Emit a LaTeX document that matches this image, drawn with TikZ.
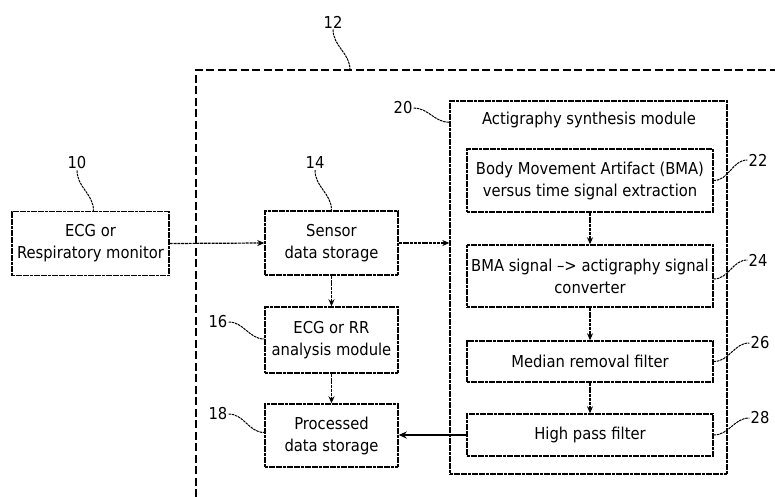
\documentclass[tikz,border=0pt]{standalone}
\usepackage{fontspec}
\setmainfont{DejaVu Sans Condensed}
\usepackage{tikz}
\usetikzlibrary{arrows.meta}
\usetikzlibrary{positioning}
\tikzstyle{base}=[x=1pt, y=-1pt, font=\fontsize{16.4}{22}\selectfont]
\tikzstyle{blk}=[draw, line width=1.4pt, dash pattern=on 3pt off 0.6pt, align=center, inner sep=2pt]
\tikzstyle{groupline}=[draw, line width=2pt, dash pattern=on 8pt off 3.5pt]
\tikzstyle{arr}=[line width=1.2pt, dash pattern=on 3pt off 0.8pt, -{Stealth[length=7pt,width=6pt]}]
\tikzstyle{leader}=[line width=1pt, dash pattern=on 2.5pt off 0.8pt]
\tikzstyle{lbl}=[inner sep=1pt]

\begin{document}
\begin{tikzpicture}[base]
    \useasboundingbox (0,0) rectangle (775,497);
    % system boundary 12
    \draw [groupline] (196,497) -- (196,70) -- (775,70);
    \coordinate (g12) at (350,70);

    \node [blk, minimum width=157pt, minimum height=64pt] (mon) at (90.5,243.5) {ECG or\\Respiratory monitor};
    \node [blk, minimum width=133pt, minimum height=64pt] (sds) at (331.5,243) {Sensor\\data storage};
    \node [blk, minimum width=133pt, minimum height=66pt] (ana) at (331.5,340) {ECG or RR\\analysis module};
    \node [blk, minimum width=133pt, minimum height=63pt] (pds) at (331.5,435.5) {Processed\\data storage};

    \node [blk, minimum width=277pt, minimum height=373pt] (syn) at (588.5,287.5) {};
    \node at (589,120) (syntitle) {Actigraphy synthesis module};
    \node [blk, minimum width=246pt, minimum height=63pt] (bma) at (590,180.5) {Body Movement Artifact (BMA)\\versus time signal extraction};
    \node [blk, minimum width=246pt, minimum height=62pt] (conv) at (590,276) {BMA signal --> actigraphy signal\\converter};
    \node [blk, minimum width=246pt, minimum height=41pt] (med) at (590,361.5) {Median removal filter};
    \node [blk, minimum width=246pt, minimum height=42pt] (hpf) at (590,435) {High pass filter};

    % reference numerals
    \node [lbl] (l10) at (77,163) {10};
    \node [lbl] (l12) at (333,22) {12};
    \node [lbl] (l14) at (315,163) {14};
    \node [lbl] (l16) at (218,322) {16};
    \node [lbl] (l18) at (218,414) {18};
    \node [lbl] (l20) at (403,108) {20};
    \node [lbl] (l22) at (758,160) {22};
    \node [lbl] (l24) at (758,260) {24};
    \node [lbl] (l26) at (760,343) {26};
    \node [lbl] (l28) at (760,418) {28};

    \draw [leader] (l10.south) to[out=-90,in=90] ([xshift=3pt]mon.north);
    \draw [leader] (l12.south) to[out=-90,in=90] (g12);
    \draw [leader] (l14.south) to[out=-90,in=90] (sds.north);
    \draw [leader] (l16.east) to[out=0,in=180] ([yshift=1pt]ana.west);
    \draw [leader] (l18.east) to[out=0,in=180] ([yshift=3pt]pds.west);
    \draw [leader] (l20.east) to[out=0,in=180] ([yshift=-22pt]syn.north west);
    \draw [leader] (bma.east) to[out=0,in=180] (l22.west);
    \draw [leader] ([yshift=-3pt]conv.east) to[out=0,in=180] (l24.west);
    \draw [leader] (med.east) to[out=0,in=180] (l26.west);
    \draw [leader] (hpf.east) to[out=0,in=180] (l28.west);

    % signal flow
    \draw [arr] (mon.east) -- (sds.west);
    \draw [arr] (sds.east) -- (sds.east -| syn.west);
    \draw [arr] (sds.south) -- (ana.north);
    \draw [arr] (ana.south) -- (pds.north);
    \draw [arr] (bma.south) -- (conv.north);
    \draw [arr] (conv.south) -- (med.north);
    \draw [arr] (med.south) -- (hpf.north);
    \draw [line width=1.6pt, -{Stealth[length=8pt,width=7pt]}] (hpf.west) -- (hpf.west -| pds.east);
\end{tikzpicture}
\end{document}
